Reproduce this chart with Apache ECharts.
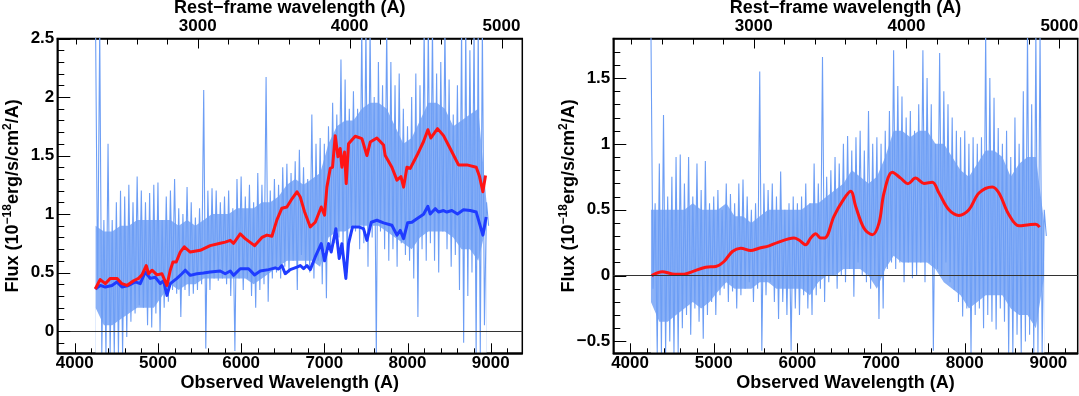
<!DOCTYPE html>
<html>
<head>
<meta charset="utf-8">
<script src="https://cdn.jsdelivr.net/npm/echarts@6/dist/echarts.min.js"></script>
<style>
  html, body { margin: 0; padding: 0; background: #fff; }
  #chart { width: 1079px; height: 396px; }
</style>
</head>
<body>
<div id="chart"></div>
<script>
// redshift of the object (rest-frame axis on top)
const Z = 0.826

// observed spectrum: upper / lower flux in 50 A bins from 4250 A
const SPEC_START = 4250
const SPEC_STEP = 50

const specHiLeft = [
  2.6, 2.6, 0.95, 1.6, 0.95, 1.1, 1.2, 1.15, 1.25, 1.1,
  1.32, 1.2, 1.1, 1.18, 1.25, 1.27, 0.95, 1.15, 1.2, 1.3,
  1.05, 1.0, 1.23, 1.1, 0.97, 1.05, 2.06, 1.2, 1.22, 1.2,
  1.1, 1.15, 1.2, 1.05, 1.3, 1.32, 1.15, 1.25, 1.1, 1.35,
  1.25, 2.17, 1.2, 1.3, 1.25, 1.4, 1.43, 1.35, 1.45, 1.55,
  1.4, 1.3, 1.85, 1.6, 1.65, 1.6, 1.75, 1.95, 1.85, 2.32,
  2.15, 1.9, 2.05, 1.9, 2.6, 2.6, 2.6, 2.0, 2.3, 2.1,
  2.6, 2.3, 2.1, 2.2, 1.9, 1.75, 2.0, 2.2, 2.1, 2.6,
  2.6, 2.6, 2.2, 2.3, 2.6, 2.15, 1.85, 2.1, 2.6, 2.6,
  2.4, 2.6, 2.6, 2.6, 1.1
]
const specLoLeft = [
  0.35, -0.2, -0.2, -0.2, -0.2, -0.2, -0.2, -0.05, 0.08, 0.15,
  0.22, 0.2, 0.05, 0.03, 0.15, 0.0, 0.2, 0.25, 0.35, 0.32,
  0.12, 0.35, 0.3, 0.32, 0.35, 0.4, -0.15, 0.35, 0.45, 0.43,
  0.45, 0.4, 0.3, -0.17, 0.45, 0.35, 0.45, 0.3, 0.2, 0.35,
  0.4, 0.25, 0.45, 0.5, 0.45, 0.55, 0.5, 0.6, 0.35, 0.65,
  0.55, 0.5, 0.45, 0.6, 0.4, 0.28, 0.7, 0.75, 0.8, 0.7,
  0.5, 0.9, 0.85, 0.7, 0.75, 0.55, 0.8, -0.2, 0.85, 0.7,
  0.6, 0.7, 0.55, 0.75, 0.65, 0.6, 0.45, 0.12, 0.7, 0.6,
  0.75, 0.6, 0.5, 0.85, 0.7, 0.55, 0.65, 0.35, -0.1, 0.3,
  0.5, -0.2, -0.2, 0.05, 0.9
]
const specHiRight = [
  1.85, 0.55, 0.85, 1.22, 0.6, 0.75, 0.9, 0.92, 0.7, 0.9,
  0.6, 0.85, 0.65, 0.87, 0.55, 0.6, 0.65, 0.5, 0.7, 0.62,
  0.55, 0.7, 0.73, 0.6, 0.5, 0.55, 1.55, 0.7, 0.65, 0.7,
  0.6, 0.79, 0.5, 0.55, 0.6, 0.55, 0.6, 0.7, 0.55, 0.85,
  0.7, 1.66, 0.75, 0.8, 0.9, 0.85, 1.0, 1.06, 0.95, 1.05,
  1.1, 0.95, 1.25, 1.0, 1.05, 1.0, 1.1, 1.25, 1.71, 1.44,
  1.36, 1.2, 1.25, 1.1, 1.3, 1.71, 1.5, 1.3, 1.0, 1.69,
  1.4, 1.3, 1.2, 1.1, 1.05, 1.1, 1.0, 1.05, 1.0, 1.05,
  1.85, 1.5, 1.35, 1.12, 1.0, 1.1, 0.9, 1.2, 1.0, 1.4,
  1.85, 1.3, 1.85, 1.85, 0.5
]
const specLoRight = [
  -0.1, -0.59, -0.59, -0.59, -0.5, -0.59, -0.59, -0.4, -0.3, -0.45,
  -0.25, -0.35, -0.48, -0.3, -0.2, -0.3, -0.15, -0.1, -0.2, -0.12,
  -0.25, -0.15, -0.1, -0.05, -0.2, -0.1, -0.57, -0.15, -0.05, -0.2,
  -0.33, -0.2, -0.3, -0.57, -0.25, -0.3, -0.15, -0.25, -0.3, -0.15,
  -0.1, -0.2, -0.05, 0.0, -0.1, 0.0, -0.05, 0.05, -0.16, 0.1,
  0.0, -0.05, -0.1, 0.0, -0.33, -0.25, 0.05, 0.1, 0.05, 0.1,
  -0.05, 0.1, -0.02, 0.0, 0.1, -0.05, 0.1, -0.57, 0.05, 0.0,
  0.1, -0.05, -0.11, -0.2, -0.31, -0.25, -0.59, -0.3, -0.25, -0.4,
  -0.3, -0.35, -0.41, -0.25, -0.35, -0.59, -0.59, -0.45, -0.59, -0.5,
  -0.45, -0.59, -0.59, -0.59, 0.3
]

// dense core of the spectrum, 100 A bins from 4250 A
const CORE_START = 4250
const CORE_STEP = 100
const coreHiLeft = [
  0.9, 0.85, 0.85, 0.9, 0.9, 0.95, 0.95, 0.95, 0.95, 0.95,
  0.9, 0.95, 0.9, 0.95, 1.0, 1.0, 1.0, 1.05, 1.05, 1.05,
  1.1, 1.1, 1.15, 1.25, 1.3, 1.25, 1.3, 1.35, 1.6, 1.75,
  1.8, 1.8, 1.9, 1.95, 1.95, 1.9, 1.75, 1.6, 1.65, 1.8,
  1.95, 1.95, 1.9, 1.75, 1.8, 1.85, 1.9, 1.1
]
const coreLoLeft = [
  0.2, 0.05, 0.05, 0.1, 0.15, 0.2, 0.2, 0.2, 0.3, 0.4,
  0.35, 0.4, 0.4, 0.45, 0.45, 0.45, 0.45, 0.45, 0.45, 0.4,
  0.45, 0.5, 0.55, 0.6, 0.6, 0.6, 0.6, 0.55, 0.8, 0.85,
  0.85, 0.9, 0.9, 0.9, 0.9, 0.85, 0.8, 0.75, 0.7, 0.8,
  0.85, 0.85, 0.85, 0.8, 0.7, 0.7, 0.6, 0.9
]
const coreHiRight = [
  0.5, 0.5, 0.5, 0.5, 0.5, 0.55, 0.5, 0.5, 0.5, 0.55,
  0.45, 0.45, 0.4, 0.45, 0.5, 0.5, 0.5, 0.5, 0.5, 0.55,
  0.55, 0.6, 0.65, 0.7, 0.8, 0.75, 0.7, 0.75, 0.9, 1.1,
  1.1, 1.05, 1.1, 1.1, 1.0, 1.0, 0.9, 0.8, 0.75, 0.85,
  0.95, 0.95, 0.9, 0.75, 0.85, 0.9, 0.9, 0.4
]
const coreLoRight = [
  -0.2, -0.35, -0.35, -0.3, -0.25, -0.2, -0.25, -0.2, -0.12, -0.05,
  -0.1, -0.1, -0.1, -0.05, -0.05, -0.1, -0.1, -0.1, -0.1, -0.15,
  -0.05, 0.0, 0.0, 0.05, 0.05, 0.05, 0.0, -0.1, 0.05, 0.15,
  0.1, 0.1, 0.1, 0.1, 0.05, -0.05, -0.1, -0.15, -0.25, -0.2,
  -0.15, -0.15, -0.15, -0.25, -0.3, -0.3, -0.4, 0.0
]

// left panel: total model (red) and host model (blue)
const totalWaveLeft = [
  4246, 4306, 4367, 4427, 4507, 4567, 4627, 4707, 4767, 4808,
  4859, 4887, 4928, 4988, 5048, 5108, 5148, 5180, 5220, 5268,
  5316, 5388, 5508, 5628, 5748, 5809, 5869, 5909, 5989, 6049,
  6161, 6250, 6310, 6370, 6430, 6490, 6550, 6611, 6671, 6711,
  6762, 6831, 6891, 6963, 7003, 7031, 7071, 7099, 7131, 7164,
  7191, 7211, 7243, 7263, 7291, 7371, 7452, 7512, 7552, 7632,
  7712, 7732, 7812, 7873, 7921, 7953, 7993, 8033, 8113, 8193,
  8245, 8281, 8361, 8433, 8513, 8613, 8714, 8826, 8866, 8906,
  8938
]
const totalFluxLeft = [
  0.36, 0.44, 0.405, 0.45, 0.45, 0.405, 0.39, 0.43, 0.45, 0.48,
  0.56, 0.49, 0.52, 0.48, 0.49, 0.39, 0.52, 0.59, 0.59, 0.675,
  0.72, 0.675, 0.69, 0.73, 0.75, 0.76, 0.775, 0.75, 0.83, 0.79,
  0.73, 0.80, 0.82, 0.81, 0.95, 1.05, 1.06, 1.13, 1.19, 1.145,
  1.02, 0.89, 0.93, 1.06, 0.99, 1.23, 1.39, 1.40, 1.67, 1.49,
  1.56, 1.40, 1.53, 1.26, 1.60, 1.665, 1.645, 1.50, 1.615, 1.65,
  1.59, 1.50, 1.40, 1.29, 1.32, 1.23, 1.40, 1.39, 1.50, 1.62,
  1.72, 1.65, 1.73, 1.67, 1.56, 1.42, 1.42, 1.40, 1.32, 1.19,
  1.33
]
const hostWaveLeft = [
  4246, 4306, 4367, 4447, 4507, 4567, 4647, 4727, 4787, 4847,
  4907, 4968, 5028, 5068, 5108, 5148, 5228, 5288, 5328, 5388,
  5468, 5548, 5628, 5748, 5809, 5869, 5909, 5989, 6089, 6161,
  6230, 6330, 6410, 6450, 6490, 6530, 6590, 6671, 6711, 6751,
  6791, 6831, 6891, 6963, 7003, 7051, 7083, 7139, 7179, 7211,
  7259, 7291, 7339, 7411, 7471, 7512, 7564, 7632, 7712, 7812,
  7873, 7913, 7953, 8001, 8053, 8113, 8193, 8245, 8273, 8333,
  8373, 8433, 8473, 8533, 8601, 8673, 8754, 8826, 8866, 8906,
  8946
]
const hostFluxLeft = [
  0.36, 0.39, 0.376, 0.39, 0.42, 0.376, 0.39, 0.42, 0.405, 0.505,
  0.45, 0.46, 0.405, 0.43, 0.305, 0.405, 0.45, 0.49, 0.52, 0.476,
  0.49, 0.496, 0.505, 0.513, 0.49, 0.513, 0.476, 0.533, 0.533, 0.48,
  0.513, 0.525, 0.54, 0.53, 0.56, 0.49, 0.525, 0.547, 0.56, 0.533,
  0.56, 0.525, 0.633, 0.747, 0.60, 0.747, 0.675, 0.875, 0.62, 0.747,
  0.45, 0.747, 0.89, 0.89, 0.875, 0.775, 0.93, 0.947, 0.925, 0.904,
  0.82, 0.86, 0.79, 0.925, 0.93, 0.96, 0.998, 1.066, 1.00, 1.046,
  1.017, 1.03, 1.017, 1.03, 1.00, 1.036, 1.03, 1.017, 0.918, 0.82,
  0.975
]

// right panel: smoothed host-subtracted model (red)
const smoothWaveRight = [
  4259, 4386, 4505, 4645, 4745, 4904, 5024, 5123, 5223, 5323,
  5442, 5541, 5661, 5760, 5959, 6019, 6099, 6159, 6219, 6279,
  6326, 6437, 6537, 6637, 6697, 6796, 6896, 6976, 7035, 7135,
  7234, 7321, 7413, 7513, 7612, 7692, 7811, 7931, 8050, 8170,
  8329, 8409, 8528, 8648, 8767, 8847, 8895
]
const smoothFluxRight = [
  0.00, 0.03, 0.013, 0.01, 0.03, 0.064, 0.069, 0.107, 0.183, 0.208,
  0.19, 0.208, 0.226, 0.25, 0.285, 0.27, 0.234, 0.285, 0.318, 0.285,
  0.285, 0.45, 0.564, 0.64, 0.525, 0.36, 0.31, 0.40, 0.627, 0.785,
  0.74, 0.698, 0.74, 0.70, 0.708, 0.627, 0.50, 0.457, 0.50, 0.627,
  0.673, 0.627, 0.462, 0.378, 0.386, 0.39, 0.368
]

// tick labels
const obsTicks = [4000, 5000, 6000, 7000, 8000, 9000]
const restTicks = [3000, 4000, 5000]
const fluxTicksLeft = [0, 0.5, 1, 1.5, 2, 2.5]
const fluxTicksRight = [-0.5, 0, 0.5, 1, 1.5]

const FONT = '"Liberation Sans", Arial, Helvetica, sans-serif'
const SPEC_COLOR = '#6d9ef5'
const TOTAL_COLOR = '#ff1414'
const HOST_COLOR = '#1f3cff'

const GRIDS = [
  { left: 57.3, top: 38.5, width: 465, height: 314.8 },
  { left: 613.3, top: 38.5, width: 464.4, height: 314.8 }
]

const steps = (from, to, step) => {
  const out = []
  for (let v = from; v <= to + 1e-9; v += step) out.push(Math.round(v * 1000) / 1000)
  return out
}

const pairs = (xs, ys) => xs.map((x, i) => [x, ys[i]])
const grid = (start, step, n) => Array.from({ length: n }, (_, i) => start + i * step)

// each 50 A bin as a zig-zag between its upper and lower value
const zigzag = (hi, lo) => {
  const out = []
  hi.forEach((h, i) => {
    const w = SPEC_START + i * SPEC_STEP
    out.push([w, h])
    out.push([w + SPEC_STEP / 2, lo[i]])
  })
  return out
}

const labelText = { color: '#000', fontFamily: FONT, fontWeight: 'bold', fontSize: 17 }
const nameText = { color: '#000', fontFamily: FONT, fontWeight: 'bold', fontSize: 18 }
const frameLine = { show: true, onZero: false, lineStyle: { color: '#000', width: 1.5 } }
const fmt = (v) => (v < 0 ? '\u2212' : '') + Math.abs(v)

const baseAxis = (gridIndex, position, min, max) => ({
  gridIndex, type: 'value', position, min, max,
  nameMoveOverlap: false,
  axisLine: frameLine,
  splitLine: { show: false },
  axisTick: { show: false }
})

const xAxesFor = (gridIndex, min, max) => [
  Object.assign(baseAxis(gridIndex, 'bottom', min, max), {
    name: 'Observed Wavelength (A)', nameLocation: 'middle', nameGap: 21, nameTextStyle: nameText,
    axisLabel: Object.assign({ margin: 2, customValues: obsTicks, formatter: fmt }, labelText)
  }),
  Object.assign(baseAxis(gridIndex, 'top', min / (1 + Z), max / (1 + Z)), {
    name: 'Rest\u2212frame wavelength (A)', nameLocation: 'middle', nameGap: 21, nameTextStyle: nameText,
    axisLabel: Object.assign({ margin: 4, customValues: restTicks, formatter: fmt }, labelText)
  })
]

const yName = '{t|Flux (10}{s|\u221218}{t|erg/s/cm}{s|2}{t|/A)}'
const yNameStyle = {
  rich: {
    t: { fontFamily: FONT, fontWeight: 'bold', fontSize: 18, color: '#000', lineHeight: 24, verticalAlign: 'middle' },
    s: { fontFamily: FONT, fontWeight: 'bold', fontSize: 12, color: '#000', lineHeight: 24, verticalAlign: 'top' }
  }
}

const yAxisFor = (gridIndex, min, max, major) =>
  Object.assign(baseAxis(gridIndex, 'left', min, max), {
    name: yName, nameLocation: 'middle', nameRotate: 90, nameGap: 32, nameTextStyle: yNameStyle,
    axisLabel: Object.assign({ margin: 3, customValues: major, formatter: fmt }, labelText)
  })

const zeroLine = {
  silent: true, symbol: 'none', label: { show: false },
  lineStyle: { color: '#333', width: 1, type: 'solid' },
  data: [{ yAxis: 0 }]
}

// dense core: blue area under the upper edge, then white area under the lower edge
const coreBand = (xi, yi, hi, lo) => {
  const waves = grid(CORE_START, CORE_STEP, hi.length)
  const area = (vals, color, opacity) => ({
    type: 'line', xAxisIndex: xi, yAxisIndex: yi, silent: true,
    data: pairs(waves, vals), symbol: 'none',
    lineStyle: { width: 0, opacity: 0 },
    areaStyle: { color, opacity, origin: 'start' }
  })
  return [area(hi, SPEC_COLOR, 0.8), area(lo, '#ffffff', 1)]
}

const specSeries = (xi, yi, data) => ({
  type: 'line', xAxisIndex: xi, yAxisIndex: yi, data, silent: true,
  showSymbol: false, symbol: 'none',
  lineStyle: { color: SPEC_COLOR, width: 1.1 }
})

const modelSeries = (xi, yi, data, color, smooth) => ({
  type: 'line', xAxisIndex: xi, yAxisIndex: yi, data,
  showSymbol: false, symbol: 'none', smooth: smooth || false,
  lineStyle: { color, width: 3, join: 'round' }
})

const chart = echarts.init(document.getElementById('chart'), null, { renderer: 'canvas' })

chart.setOption({
  animation: false,
  backgroundColor: '#fff',
  grid: GRIDS.map(g => Object.assign({
    show: true, borderColor: '#000', borderWidth: 1.5, containLabel: false, outerBoundsMode: 'none'
  }, g)),
  xAxis: [
    ...xAxesFor(0, 3790, 9380),
    ...xAxesFor(1, 3800, 9350)
  ],
  yAxis: [
    yAxisFor(0, -0.19, 2.5, fluxTicksLeft),
    yAxisFor(1, -0.59, 1.8, fluxTicksRight)
  ],
  series: [
    ...coreBand(0, 0, coreHiLeft, coreLoLeft),
    specSeries(0, 0, zigzag(specHiLeft, specLoLeft)),
    modelSeries(0, 0, pairs(hostWaveLeft, hostFluxLeft), HOST_COLOR),
    Object.assign(modelSeries(0, 0, pairs(totalWaveLeft, totalFluxLeft), TOTAL_COLOR), { markLine: zeroLine }),
    ...coreBand(2, 1, coreHiRight, coreLoRight),
    specSeries(2, 1, zigzag(specHiRight, specLoRight)),
    Object.assign(modelSeries(2, 1, pairs(smoothWaveRight, smoothFluxRight), TOTAL_COLOR, 0.35), { markLine: zeroLine })
  ]
})

// inward tick marks and frame, positioned with the chart's own axis scales
const overlay = []
const seg = (x1, y1, x2, y2, w) => overlay.push({
  type: 'line', silent: true, z: 100,
  shape: { x1, y1, x2, y2 }, style: { stroke: '#000', lineWidth: w || 1 }
})
const panels = [
  { major: fluxTicksLeft, minor: steps(-0.1, 2.4, 0.1) },
  { major: fluxTicksRight, minor: steps(-0.5, 1.7, 0.1) }
]
panels.forEach((p, k) => {
  const g = GRIDS[k]
  const bottom = g.top + g.height
  const xPix = (axis, v) => Math.round(chart.convertToPixel({ xAxisIndex: axis }, v)) + 0.5
  const yPix = v => Math.round(chart.convertToPixel({ yAxisIndex: k }, v)) + 0.5
  obsTicks.forEach(v => { const x = xPix(2 * k, v); seg(x, bottom, x, bottom - 10) })
  steps(4000, 9200, 200).forEach(v => { const x = xPix(2 * k, v); seg(x, bottom, x, bottom - 5) })
  restTicks.forEach(v => { const x = xPix(2 * k + 1, v); seg(x, g.top, x, g.top + 10) })
  steps(2200, 5000, 200).forEach(v => { const x = xPix(2 * k + 1, v); seg(x, g.top, x, g.top + 6) })
  p.major.forEach(v => { const y = yPix(v); seg(g.left, y, g.left + 13, y) })
  p.minor.forEach(v => { const y = yPix(v); seg(g.left, y, g.left + 7, y) })
  seg(g.left, bottom, g.left + g.width, bottom, 1.5)
})
chart.setOption({ graphic: { elements: overlay } })

window.addEventListener('resize', () => chart.resize())
</script>
</body>
</html>
